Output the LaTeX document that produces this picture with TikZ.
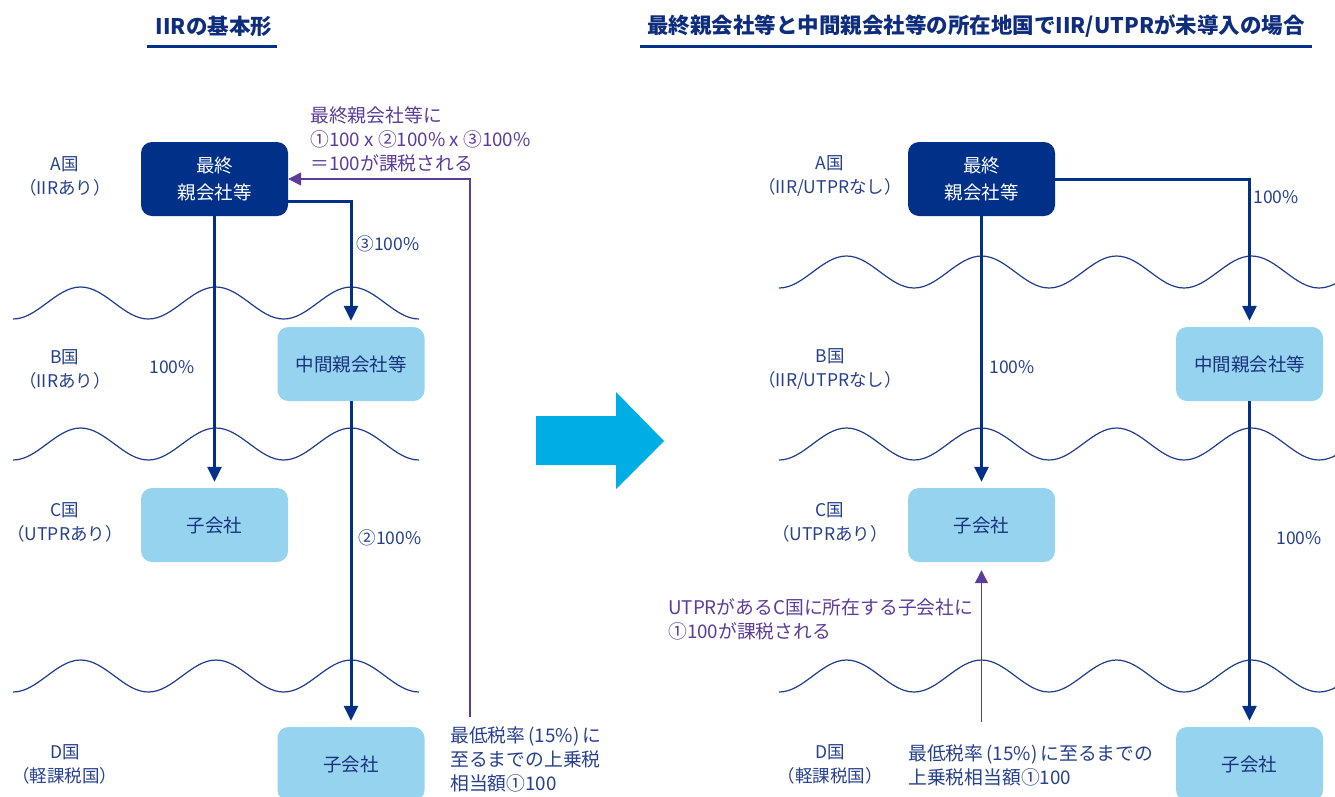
\documentclass[tikz,border=0pt]{standalone}
\usepackage{fontspec}
\setmainfont{Noto Sans CJK JP}
\usetikzlibrary{arrows.meta}
\definecolor{navy}{RGB}{0,48,135}
\definecolor{lightb}{RGB}{150,211,238}
\definecolor{txtblue}{RGB}{38,64,140}
\definecolor{boxtxt}{RGB}{25,50,125}
\definecolor{purp}{RGB}{92,60,152}
\definecolor{wavec}{RGB}{30,60,140}
\definecolor{titlec}{RGB}{15,45,125}
\definecolor{cyanarr}{RGB}{0,174,230}
\begin{document}
\begin{tikzpicture}[x=1pt,y=-1pt,
 darkbox/.style={fill=navy,text=white,rounded corners=11pt,minimum width=147pt,minimum height=74pt,inner sep=0pt,align=center,font=\fontsize{18.5}{27}\selectfont},
 lightbox/.style={darkbox,fill=lightb,text=boxtxt},
 lbl/.style={text=txtblue,align=center,inner sep=0pt,font=\fontsize{17.5}{24}\selectfont},
 pct/.style={text=txtblue,inner sep=0pt,font=\fontsize{17.5}{24}\selectfont},
 note/.style={text=purp,align=left,inner sep=0pt,anchor=west,font=\fontsize{18.8}{24}\selectfont},
 bnote/.style={note,text=txtblue},
 title/.style={text=titlec,inner sep=0pt,font=\bfseries\fontsize{21.5}{24}\selectfont},
 uline/.style={draw=navy,line width=3pt},
 mainarrow/.style={draw=navy,line width=3pt,-{Triangle[width=14pt,length=15pt]},shorten >=6pt},
 purparrow/.style={draw=purp,line width=1.5pt,-{Triangle[width=13pt,length=13pt]}},
 wave/.style={draw=wavec,line width=1.2pt}]
\path[use as bounding box] (0,0) rectangle (1335,796);
\clip (0,0) rectangle (1335,796);

% waves left
\draw[wave] (13,319) \foreach \i in {1,2,3}{ cos ++(33.83,-16) sin ++(33.83,-16) cos ++(33.83,16) sin ++(33.83,16)};
\draw[wave] (13,460) \foreach \i in {1,2,3}{ cos ++(33.83,-16) sin ++(33.83,-16) cos ++(33.83,16) sin ++(33.83,16)};
\draw[wave] (13,692) \foreach \i in {1,2,3}{ cos ++(33.83,-16) sin ++(33.83,-16) cos ++(33.83,16) sin ++(33.83,16)};
% waves right
\draw[wave] (779,288) \foreach \i in {1,...,5}{ cos ++(33.75,-16) sin ++(33.75,-16) cos ++(33.75,16) sin ++(33.75,16)};
\draw[wave] (779,460) \foreach \i in {1,...,5}{ cos ++(33.75,-16) sin ++(33.75,-16) cos ++(33.75,16) sin ++(33.75,16)};
\draw[wave] (779,692) \foreach \i in {1,...,5}{ cos ++(33.75,-16) sin ++(33.75,-16) cos ++(33.75,16) sin ++(33.75,16)};

% ---------- left panel ----------
\node[title] (lt) at (214,26) {IIRの基本形};
\draw[uline] (147,46) -- (277,46);

\node[lbl] (la) at (65,176) {A国\\（IIRあり）};
\node[lbl] (lb) at (65,369) {B国\\（IIRあり）};
\node[lbl] (lcl) at (65,522) {C国\\（UTPRあり）};
\node[lbl] (ldl) at (65,764) {D国\\（軽課税国）};

\node[darkbox] (lp) at (214.5,179) {最終\\親会社等};
\node[lightbox] (lm) at (351,364) {中間親会社等};
\node[lightbox] (lc) at (214.5,525) {子会社};
\node[lightbox] (ld) at (351,764) {子会社};

\draw[mainarrow] (lp.south) -- (lc.north);
\draw[mainarrow] ([yshift=-22pt]lp.east) -| (lm.north);
\draw[mainarrow] (lm.south) -- (ld.north);
\node[pct] (lp1) at (172,367) {100\%};
\node[pct] (lp3) at (388,244) {③100\%};
\node[pct] (lp2) at (390,538) {②100\%};

\node[note] (lnote) at (310,139) {最終親会社等に\\①100 x ②100\% x ③100\%\\＝100が課税される};
\node[bnote] (lbot) at (450,759) {最低税率\,(15\%)\,に\\至るまでの上乗税\\相当額①100};
\coordinate (lpb) at (470,717);
\draw[purparrow] (lpb) |- (lp.east);

% big arrow
\fill[cyanarr] (536,416) -- (616,416) -- (616,392) -- (664,441) -- (616,489) -- (616,465) -- (536,465) -- cycle;

% ---------- right panel ----------
\node[title] (rt) at (976,26) {最終親会社等と中間親会社等の所在地国でIIR/UTPRが未導入の場合};
\draw[uline] (640,46) -- (1312,46);

\node[lbl] (ra) at (830,176) {A国\\（IIR/UTPRなし）};
\node[lbl] (rb) at (830,369) {B国\\（IIR/UTPRなし）};
\node[lbl] (rcl) at (830,522) {C国\\（UTPRあり）};
\node[lbl] (rdl) at (830,764) {D国\\（軽課税国）};

\node[darkbox] (rp) at (981.5,179) {最終\\親会社等};
\node[lightbox] (rm) at (1249.5,364) {中間親会社等};
\node[lightbox] (rc) at (981.5,525) {子会社};
\node[lightbox] (rd) at (1249.5,764) {子会社};

\draw[mainarrow] (rp.south) -- (rc.north);
\draw[mainarrow] (rp.east) -| (rm.north);
\draw[mainarrow] (rm.south) -- (rd.north);
\node[pct] (rp1) at (1012,367) {100\%};
\node[pct] (rp0) at (1276,197) {100\%};
\node[pct] (rp2) at (1299,538) {100\%};

\node[note] (rnote) at (668,619) {UTPRがあるC国に所在する子会社に\\①100が課税される};
\node[bnote] (rbot) at (908,765) {最低税率\,(15\%)\,に至るまでの\\上乗税相当額①100};
\coordinate (rpb) at (981.5,722);
\draw[purparrow,shorten >=8pt] (rpb) -- (rc.south);
\end{tikzpicture}
\end{document}
